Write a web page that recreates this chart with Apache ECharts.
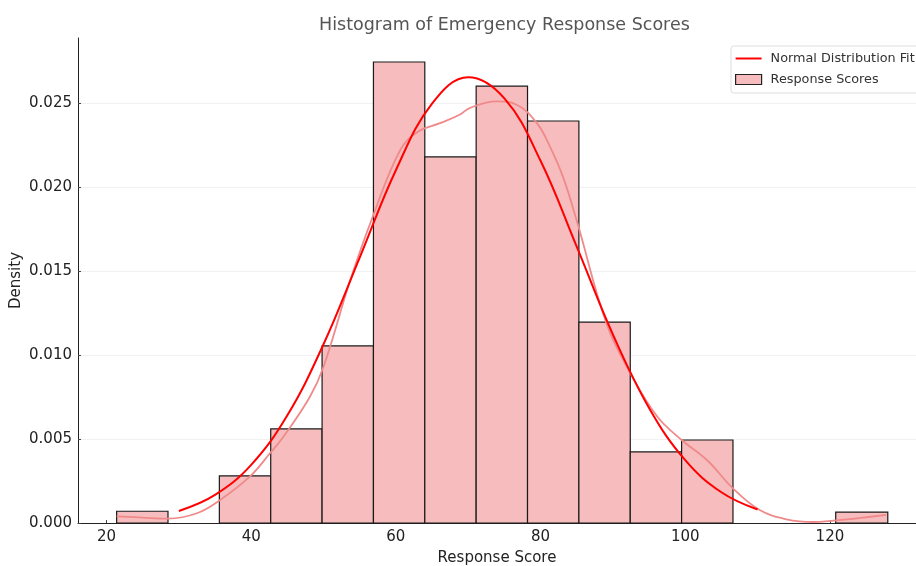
<!DOCTYPE html>
<html>
<head>
<meta charset="utf-8">
<script src="https://cdn.jsdelivr.net/npm/echarts@6/dist/echarts.min.js"></script>
<style>
  html, body { margin: 0; padding: 0; background: #fff; }
  #main { width: 916px; height: 566px; }
</style>
</head>
<body>
<div id="main"></div>
<script>
// histogram bins (left / right edges) and density heights
var binStart = [21.4, 28.5, 35.6, 42.7, 49.8, 56.9, 64.0, 71.1, 78.2, 85.3, 92.4, 99.5, 106.6, 113.7, 120.8];
var binEnd = [28.5, 35.6, 42.7, 49.8, 56.9, 64.0, 71.1, 78.2, 85.3, 92.4, 99.5, 106.6, 113.7, 120.8, 128.0];
var density = [0.0007, 0, 0.0028, 0.0056, 0.01054, 0.02744, 0.02179, 0.0260, 0.02393, 0.01196, 0.00423, 0.00494, 0, 0, 0.00065];

// normal fit curve
var normX = [30, 35, 40, 45, 50, 55, 60, 65, 70, 75, 80, 85, 90, 95, 100, 105, 110];
var normY = [0.00071, 0.00167, 0.00346, 0.00641, 0.01064, 0.0158, 0.021, 0.02497, 0.02654, 0.02528, 0.02156, 0.01645, 0.01122, 0.00685, 0.00374, 0.00183, 0.0008];

// kde curve (light line)
var kdeX = [21.4, 25.0, 28.5, 32.5, 35.7, 39.8, 42.6, 44.4, 48.1, 50.0, 53.7, 56.8, 60.6, 63.1, 66.1, 68.8, 70.2, 73.9, 76.7, 79.5, 81.3, 83.1, 85.0, 89.1, 92.4, 96.1, 99.5, 103.0, 106.6, 110.3, 114.0, 117.7, 120.5, 124.2, 127.8];
var kdeY = [0.0004, 0.00032, 0.00026, 0.00058, 0.00137, 0.00276, 0.00415, 0.0051, 0.0075, 0.0093, 0.01446, 0.01823, 0.0222, 0.0233, 0.0238, 0.0243, 0.0247, 0.0251, 0.0249, 0.0238, 0.0224, 0.0206, 0.018, 0.01189, 0.00893, 0.00635, 0.00494, 0.00375, 0.00206, 0.00077, 0.00022, 0.00006, 0.00014, 0.0003, 0.00048];

var xTicks = [20, 40, 60, 80, 100, 120];
var yTicks = [0, 0.005, 0.01, 0.015, 0.02, 0.025];

var myChart = echarts.init(document.getElementById("main"));
var font = "DejaVu Sans";

var histData = binStart.map(function (s, i) {
  return [s, binEnd[i], density[i]];
});

var option = {
  animation: false,
  textStyle: { fontFamily: font },
  title: {
    text: "Histogram of Emergency Response Scores",
    left: 314,
    top: 11,
    textStyle: { fontFamily: font, fontSize: 17.5, fontWeight: "normal", color: "#555" }
  },
  legend: {
    orient: "vertical",
    left: 731,
    top: 46,
    padding: [6, 8, 7, 4],
    itemGap: 8,
    itemWidth: 26,
    itemHeight: 10,
    backgroundColor: "rgba(255,255,255,0.85)",
    borderColor: "#dddddd",
    borderWidth: 1,
    borderRadius: 3,
    textStyle: { fontFamily: font, fontSize: 12.8, color: "#333", padding: [0, 0, 0, 4] },
    data: [
      {
        name: "Normal Distribution Fit",
        icon: "path://M0,0L26,0L26,2L0,2Z",
        itemStyle: { color: "#ff0000" }
      },
      {
        name: "Response Scores",
        icon: "rect",
        itemStyle: { color: "#f7bcbd", borderColor: "#222", borderWidth: 1.2 }
      }
    ]
  },
  grid: { left: 78, right: 0, top: 38, bottom: 43, outerBoundsMode: "none" },
  xAxis: {
    type: "value",
    min: 16.06,
    max: 131.9,
    name: "Response Score",
    nameLocation: "middle",
    nameGap: 28,
    nameTextStyle: { fontFamily: font, fontSize: 15, color: "#222" },
    axisLine: { lineStyle: { color: "#222", width: 1 } },
    axisTick: { inside: true, length: 3, customValues: xTicks, lineStyle: { color: "#444" } },
    axisLabel: { customValues: xTicks, fontFamily: font, fontSize: 15, color: "#222", margin: 7 },
    splitLine: { show: false }
  },
  yAxis: {
    type: "value",
    min: 0,
    max: 0.02887,
    name: "Density",
    nameLocation: "middle",
    nameGap: 54,
    nameMoveOverlap: false,
    nameTextStyle: { fontFamily: font, fontSize: 15, color: "#222" },
    axisLine: { show: true, lineStyle: { color: "#222", width: 1 } },
    axisTick: { show: true, inside: true, length: 3, customValues: yTicks, lineStyle: { color: "#444" } },
    axisLabel: {
      customValues: yTicks,
      fontFamily: font,
      fontSize: 15,
      color: "#222",
      margin: 6,
      formatter: function (v) { return v.toFixed(3); }
    },
    splitLine: { show: true, lineStyle: { color: "#f1f1f1", width: 1 } }
  },
  series: [
    {
      name: "Response Scores",
      type: "custom",
      itemStyle: { color: "#f7bcbd", borderColor: "#222" },
      renderItem: function (params, api) {
        var p0 = api.coord([api.value(0), api.value(2)]);
        var p1 = api.coord([api.value(1), 0]);
        return {
          type: "rect",
          shape: { x: p0[0], y: p0[1], width: p1[0] - p0[0], height: p1[1] - p0[1] },
          style: { fill: "#f7bcbd", stroke: "#1a1a1a", lineWidth: api.value(2) > 0 ? 1.2 : 0 }
        };
      },
      encode: { x: [0, 1], y: 2 },
      data: histData,
      z: 2
    },
    {
      name: "kde",
      type: "line",
      smooth: 0.4,
      symbol: "none",
      lineStyle: { color: "#f08a8a", width: 1.8 },
      data: kdeX.map(function (x, i) { return [x, kdeY[i]]; }),
      z: 3
    },
    {
      name: "Normal Distribution Fit",
      type: "line",
      smooth: 0.4,
      symbol: "none",
      color: "#ff0000",
      lineStyle: { color: "#ff0000", width: 2 },
      data: normX.map(function (x, i) { return [x, normY[i]]; }),
      z: 4
    }
  ]
};

myChart.setOption(option);
</script>
</body>
</html>
